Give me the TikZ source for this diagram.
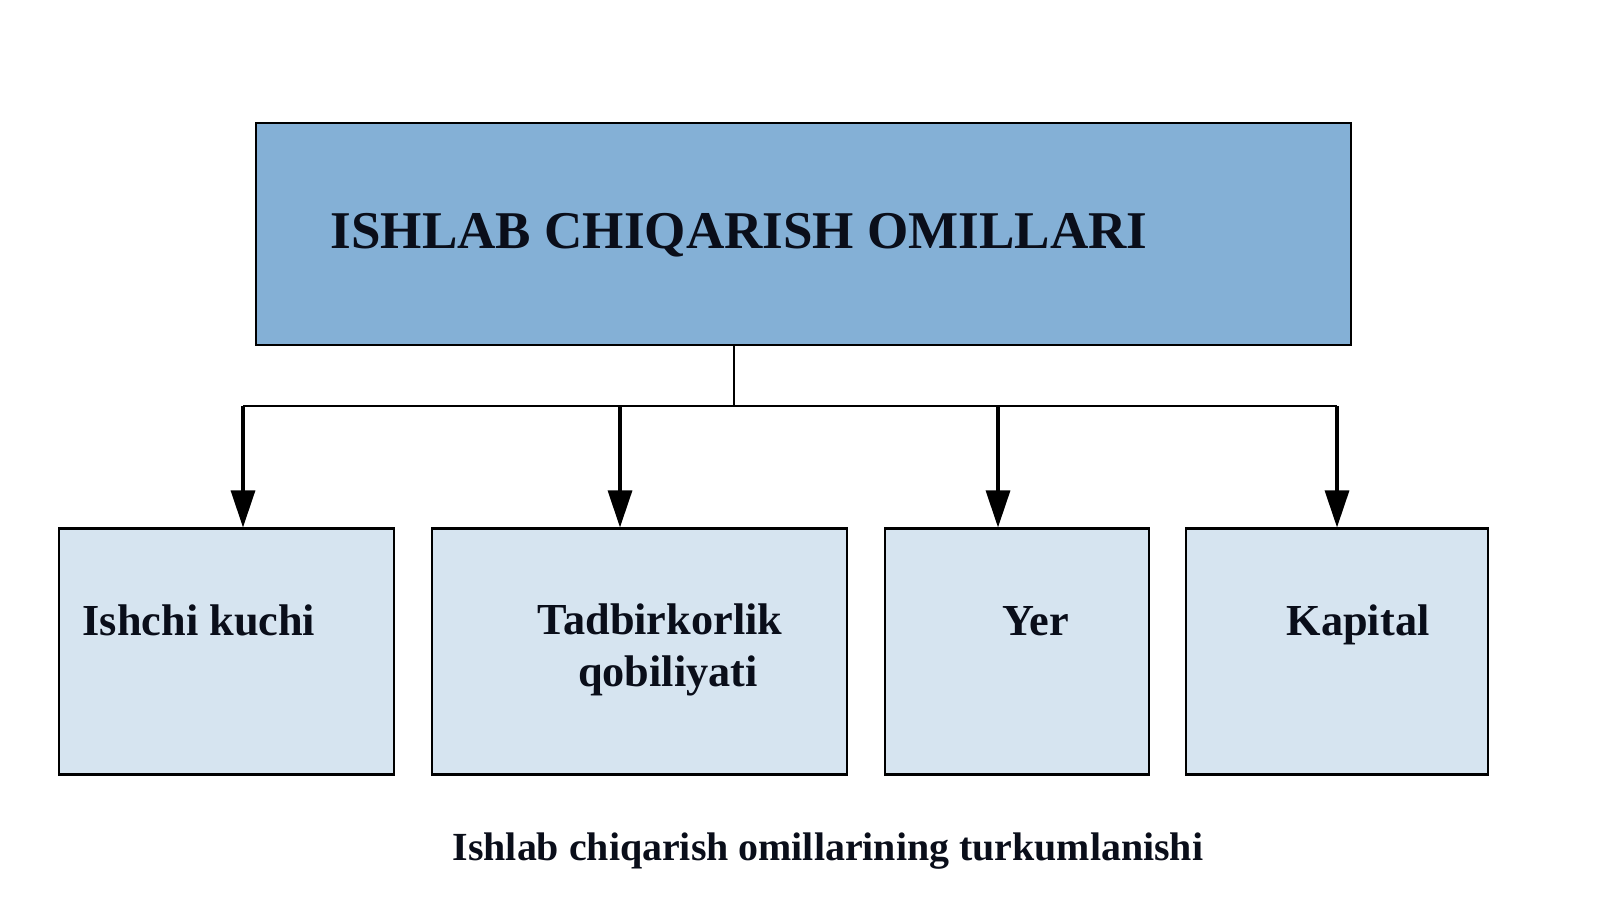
\documentclass[tikz,border=0pt]{standalone}
\usepackage{fontspec}
\setmainfont{Liberation Serif}
\usepackage{tikz}
\usetikzlibrary{arrows.meta}

\definecolor{topblue}{RGB}{132,176,214}
\definecolor{lowblue}{RGB}{214,228,240}
\definecolor{inkdark}{RGB}{10,14,26}

\tikzset{
  topbox/.style={draw=black, line width=0.55pt, fill=topblue, minimum width=10.95cm, minimum height=2.22cm, inner sep=0pt},
  factorbox/.style={draw=black, line width=0.6pt, fill=lowblue, minimum height=2.46cm, inner sep=0pt},
  boxtext/.style={inner sep=0pt, text=inkdark, font=\bfseries\fontsize{12.6}{14.8}\selectfont},
  feed/.style={black, line width=0.9pt, -{Triangle[length=0.37cm,width=0.24cm]}}
}

\begin{document}
\begin{tikzpicture}
\useasboundingbox (0,0) rectangle (16,9);
\node [topbox] (om) at (8.035,6.66) {};
\node [anchor=base west, inner sep=0pt, text=inkdark, font=\bfseries\fontsize{15.1}{18}\selectfont] (omt) at (3.30,6.52) {ISHLAB CHIQARISH OMILLARI};
\node [factorbox, minimum width=3.35cm] (ish) at (2.265,2.485) {};
\node [factorbox, minimum width=4.15cm] (tad) at (6.395,2.485) {};
\node [factorbox, minimum width=2.64cm] (yer) at (10.17,2.485) {};
\node [factorbox, minimum width=3.02cm] (kap) at (13.37,2.485) {};
\node [boxtext, anchor=base west] (isht) at (0.82,2.65) {Ishchi kuchi};
\node [boxtext, align=center, anchor=north] (tadt) at (6.60,2.97) {Tadbirkorlik\\\hspace*{0.16cm}qobiliyati};
\node [boxtext, anchor=base west] (yert) at (10.02,2.65) {Yer};
\node [boxtext, anchor=base west] (kapt) at (12.86,2.65) {Kapital};
\node [anchor=base west, inner sep=0pt, text=inkdark, font=\bfseries\fontsize{11.35}{13}\selectfont] (cap) at (4.52,0.40) {Ishlab chiqarish omillarining turkumlanishi};
\coordinate (j) at (7.34,4.94);
\coordinate (a1) at (2.43,4.94);
\coordinate (a2) at (6.20,4.94);
\coordinate (a3) at (9.98,4.94);
\coordinate (a4) at (13.37,4.94);
\draw [black, line width=0.5pt] (om.south -| j) -- (j);
\draw [black, line width=0.6pt] (a1) -- (a4);
\draw [feed] (a1) -- (a1 |- ish.north);
\draw [feed] (a2) -- (a2 |- tad.north);
\draw [feed] (a3) -- (a3 |- yer.north);
\draw [feed] (a4) -- (a4 |- kap.north);
\end{tikzpicture}
\end{document}
